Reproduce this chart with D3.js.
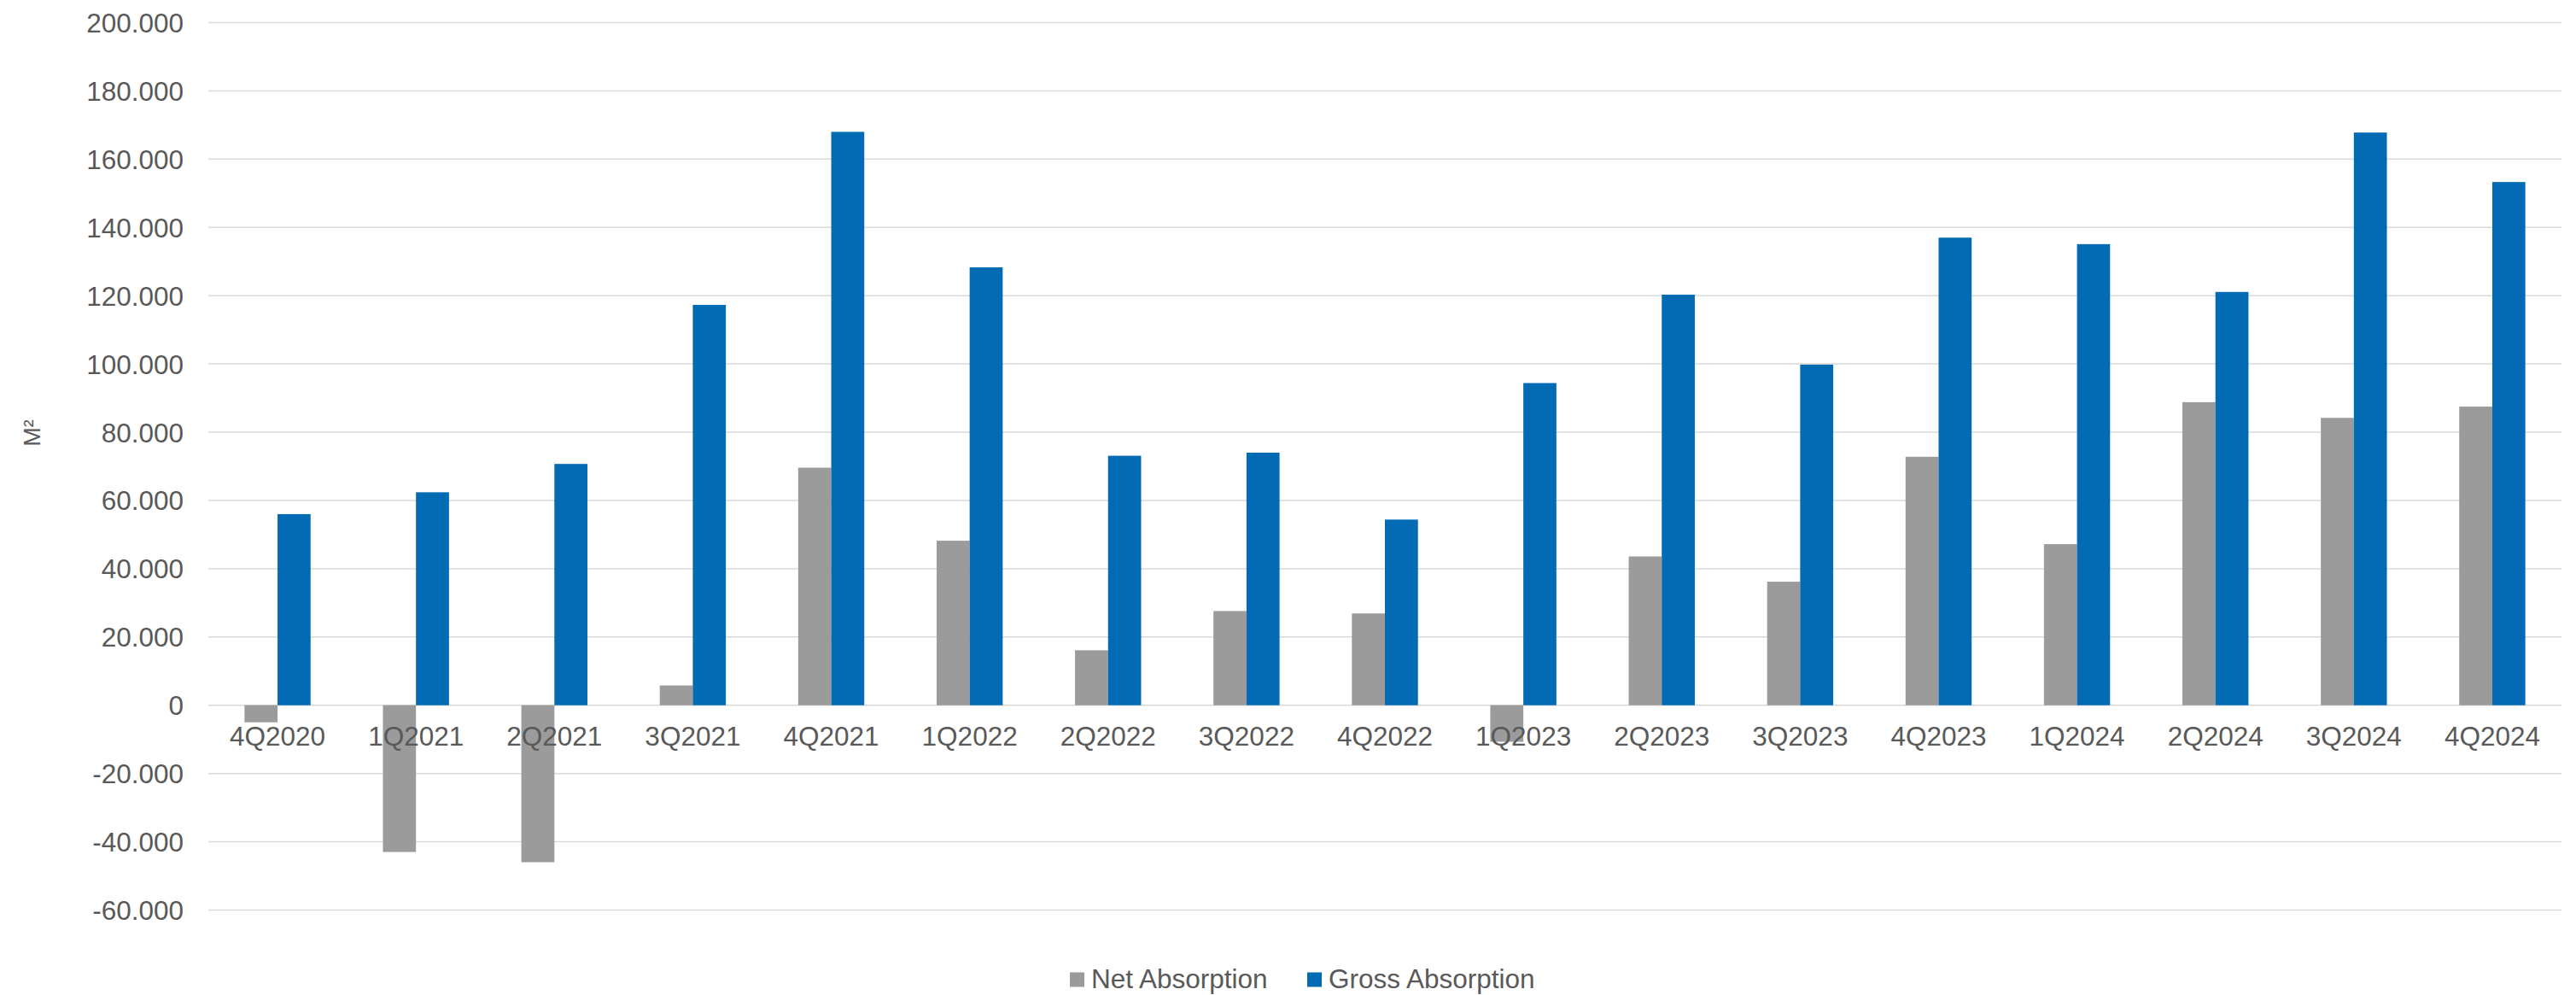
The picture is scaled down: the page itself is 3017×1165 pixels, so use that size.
<!DOCTYPE html>
<html>
<head>
<meta charset="utf-8">
<script src="https://cdn.jsdelivr.net/npm/d3@7"></script>
<style>
  html, body { margin: 0; padding: 0; background: #ffffff; }
  svg { display: block; }
  text { font-family: "Liberation Sans", Arial, sans-serif; fill: #595959; }
</style>
</head>
<body>
<svg id="chart" width="3017" height="1165"></svg>
<script>
const categories = ["4Q2020","1Q2021","2Q2021","3Q2021","4Q2021","1Q2022","2Q2022","3Q2022","4Q2022","1Q2023","2Q2023","3Q2023","4Q2023","1Q2024","2Q2024","3Q2024","4Q2024"];
const netAbsorption = [-5000, -43000, -46000, 5800, 69600, 48200, 16100, 27600, 26900, -10700, 43600, 36200, 72800, 47200, 88800, 84200, 87500];
const grossAbsorption = [56000, 62400, 70700, 117300, 168000, 128300, 73100, 74000, 54400, 94400, 120300, 99800, 137000, 135100, 121100, 167800, 153300];
const seriesNames = ["Net Absorption", "Gross Absorption"];
const seriesColors = ["#9b9b9b", "#036ab4"];
const yTicks = [-60000, -40000, -20000, 0, 20000, 40000, 60000, 80000, 100000, 120000, 140000, 160000, 180000, 200000];
const yTitle = "M²";

const svg = d3.select("#chart");
const plot = { left: 244, right: 3000, top: 26.5, bottom: 1065.5 };

const x0 = d3.scaleBand().domain(categories).range([plot.left, plot.right]).padding(0);
const bwFrac = 0.2387;
const x1 = d3.scaleBand().domain(seriesNames)
  .range([x0.bandwidth() * (0.5 - bwFrac), x0.bandwidth() * (0.5 + bwFrac)]).padding(0);
const y = d3.scaleLinear().domain([-60000, 200000]).range([plot.bottom, plot.top]);

const fmt = v => {
  const s = d3.format(",")(v).replace(/,/g, ".").replace("−", "-");
  return s;
};

// gridlines
svg.append("g").selectAll("line").data(yTicks).join("line")
  .attr("x1", plot.left).attr("x2", plot.right)
  .attr("y1", d => y(d)).attr("y2", d => y(d))
  .attr("stroke", "#d9d9d9").attr("stroke-width", 1.5);

// y axis labels
const yAxis = d3.axisLeft(y).tickValues(yTicks).tickFormat(fmt).tickSize(0).tickPadding(0);
const yg = svg.append("g").attr("transform", `translate(215,0)`).call(yAxis);
yg.select(".domain").remove();
yg.selectAll("text")
  .attr("font-size", "31.5px")
  .attr("font-family", "'Liberation Sans', Arial, sans-serif")
  .attr("fill", "#595959")
  .attr("dy", "0.35em");

// bars
const data = categories.map((c, i) => ({ cat: c, vals: [netAbsorption[i], grossAbsorption[i]] }));
const groups = svg.append("g").selectAll("g").data(data).join("g")
  .attr("transform", d => `translate(${x0(d.cat)},0)`);
groups.selectAll("rect").data(d => d.vals.map((v, k) => ({ v, k }))).join("rect")
  .attr("x", d => x1(seriesNames[d.k]))
  .attr("width", x1.bandwidth())
  .attr("y", d => y(Math.max(0, d.v)))
  .attr("height", d => Math.abs(y(d.v) - y(0)))
  .attr("fill", d => seriesColors[d.k]);

// x axis labels
const xAxis = d3.axisBottom(x0).tickSize(0).tickPadding(0);
const xg = svg.append("g").attr("transform", `translate(0,${y(0)})`).call(xAxis);
xg.select(".domain").remove();
xg.selectAll("text")
  .attr("font-size", "31.5px")
  .attr("font-family", "'Liberation Sans', Arial, sans-serif")
  .attr("fill", "#595959")
  .attr("dy", null)
  .attr("y", 47.5);

// y title
svg.append("text")
  .attr("transform", "translate(47,507) rotate(-90)")
  .attr("text-anchor", "middle")
  .attr("font-size", "27px")
  .text(yTitle);

// legend
const legendItems = [
  { name: seriesNames[0], color: seriesColors[0], x: 1253 },
  { name: seriesNames[1], color: seriesColors[1], x: 1531 }
];
const lg = svg.append("g");
legendItems.forEach(it => {
  lg.append("rect").attr("x", it.x).attr("y", 1138.5).attr("width", 17).attr("height", 17).attr("fill", it.color);
  lg.append("text").attr("x", it.x + 25).attr("y", 1156.5).attr("font-size", "31.5px").text(it.name);
});
</script>
</body>
</html>
